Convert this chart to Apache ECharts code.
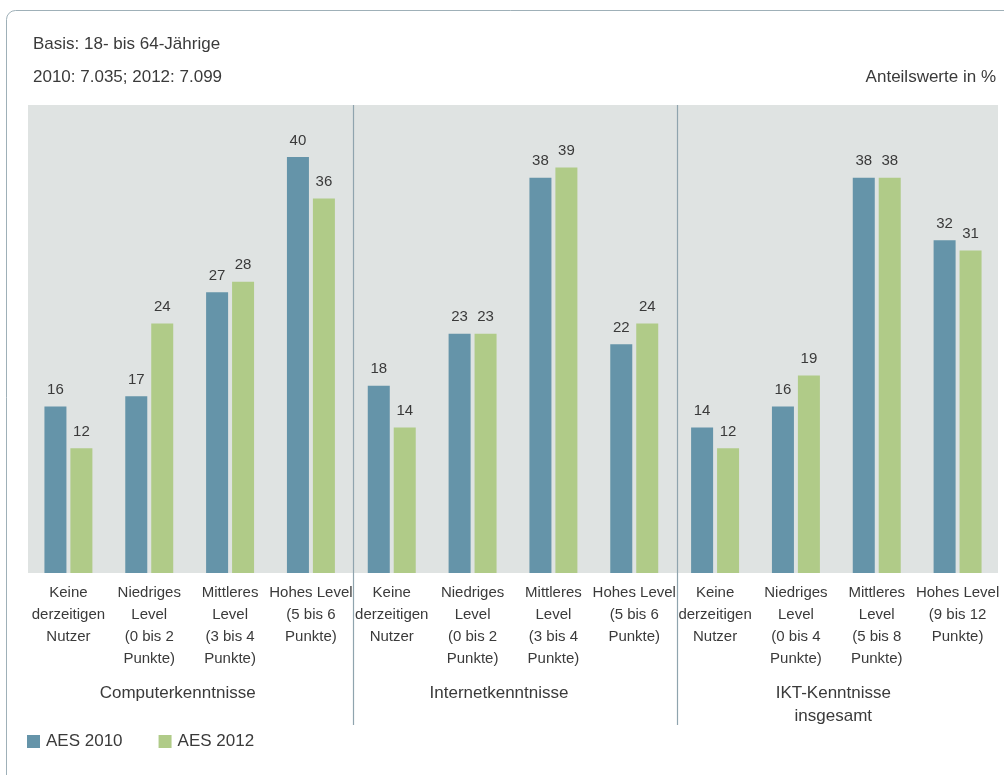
<!DOCTYPE html>
<html>
<head>
<meta charset="utf-8">
<script src="https://cdn.jsdelivr.net/npm/echarts@6/dist/echarts.min.js"></script>
<style>
	html, body { margin: 0; padding: 0; background: #fff; }
	#chart { width: 1004px; height: 775px; }
</style>
</head>
<body>
<div id="chart"></div>
<script>
const categories = [
	'Keine\nderzeitigen\nNutzer', 'Niedriges\nLevel\n(0 bis 2\nPunkte)', 'Mittleres\nLevel\n(3 bis 4\nPunkte)', 'Hohes Level\n(5 bis 6\nPunkte)',
	'Keine\nderzeitigen\nNutzer', 'Niedriges\nLevel\n(0 bis 2\nPunkte)', 'Mittleres\nLevel\n(3 bis 4\nPunkte)', 'Hohes Level\n(5 bis 6\nPunkte)',
	'Keine\nderzeitigen\nNutzer', 'Niedriges\nLevel\n(0 bis 4\nPunkte)', 'Mittleres\nLevel\n(5 bis 8\nPunkte)', 'Hohes Level\n(9 bis 12\nPunkte)'
];
const aes2010 = [16, 17, 27, 40, 18, 23, 38, 22, 14, 16, 38, 32];
const aes2012 = [12, 24, 28, 36, 14, 23, 39, 24, 12, 19, 38, 31];
const groupTitles = ['Computerkenntnisse', 'Internetkenntnisse', 'IKT-Kenntnisse\ninsgesamt'];
const groupSize = 4;

const textColor = '#3a3a3a';
const font = 'Liberation Sans';

const chart = echarts.init(document.getElementById('chart'));

const labelStyle = {
	show: true,
	position: 'top',
	distance: 9,
	fontFamily: font,
	fontSize: 15,
	color: textColor
};

chart.setOption({
	animation: false,
	textStyle: { fontFamily: font },
	grid: {
		left: 28,
		right: 6,
		top: 105,
		bottom: 202,
		show: true,
		backgroundColor: '#dfe3e2',
		borderWidth: 0
	},
	legend: {
		left: 27,
		top: 733,
		padding: 0,
		icon: 'rect',
		itemWidth: 13,
		itemHeight: 13,
		itemGap: 36,
		textStyle: { fontFamily: font, fontSize: 17, color: textColor, padding: [0, 0, 0, 1] },
		data: ['AES 2010', 'AES 2012']
	},
	xAxis: {
		type: 'category',
		data: categories,
		axisLine: { show: false },
		axisTick: { show: false },
		axisLabel: {
			interval: 0,
			margin: 9,
			fontFamily: font,
			fontSize: 15,
			lineHeight: 22,
			color: textColor
		}
	},
	yAxis: {
		type: 'value',
		min: 0,
		max: 45,
		show: false,
		splitLine: { show: false }
	},
	series: [
		{
			name: 'AES 2010',
			type: 'bar',
			data: aes2010,
			barWidth: 22,
			barGap: '18%',
			itemStyle: { color: '#6594a9' },
			label: labelStyle
		},
		{
			name: 'AES 2012',
			type: 'bar',
			data: aes2012,
			barWidth: 22,
			itemStyle: { color: '#b0cb88' },
			label: labelStyle
		}
	]
});

// frame, header texts, separators between the groups and group titles
const graphics = [
	{
		type: 'rect',
		shape: { x: 6.5, y: 10.5, width: 1020, height: 800, r: 9 },
		style: { fill: 'none', stroke: '#9fb0b8', lineWidth: 1 },
		silent: true
	},
	{
		type: 'text', left: 33, top: 36,
		style: { text: 'Basis: 18- bis 64-Jährige', fontFamily: font, fontSize: 17, fill: textColor }
	},
	{
		type: 'text', left: 33, top: 69,
		style: { text: '2010: 7.035; 2012: 7.099', fontFamily: font, fontSize: 17, fill: textColor }
	},
	{
		type: 'text', right: 8, top: 69,
		style: { text: 'Anteilswerte in %', fontFamily: font, fontSize: 17, fill: textColor }
	}
];

for (let g = 1; g < groupTitles.length; g++) {
	const a = chart.convertToPixel({ xAxisIndex: 0 }, g * groupSize - 1);
	const b = chart.convertToPixel({ xAxisIndex: 0 }, g * groupSize);
	const x = Math.round((a + b) / 2) + 2.5;
	graphics.push({
		type: 'line',
		shape: { x1: x, y1: 105, x2: x, y2: 725 },
		style: { stroke: '#8fa4ae', lineWidth: 1.2 },
		silent: true
	});
}

const titleOffsets = [-12, -14, -3];
groupTitles.forEach((t, g) => {
	const a = chart.convertToPixel({ xAxisIndex: 0 }, g * groupSize);
	const b = chart.convertToPixel({ xAxisIndex: 0 }, g * groupSize + groupSize - 1);
	const cx = (a + b) / 2 + titleOffsets[g];
	graphics.push({
		type: 'text',
		x: cx,
		y: 682,
		style: {
			text: t,
			fontFamily: font,
			fontSize: 17,
			lineHeight: 23,
			fill: textColor,
			align: 'center',
			verticalAlign: 'top'
		}
	});
});

chart.setOption({ graphic: graphics });
</script>
</body>
</html>
